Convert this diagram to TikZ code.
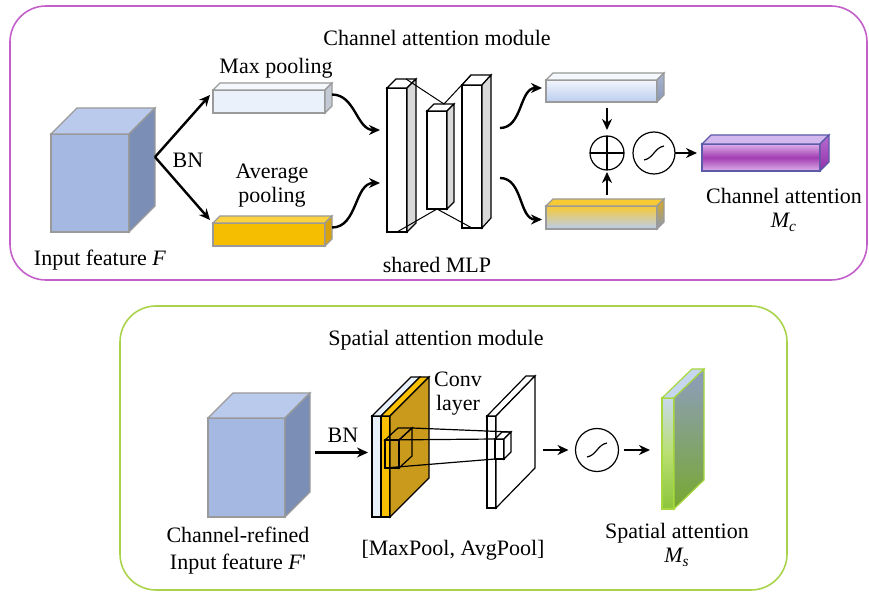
\documentclass[tikz,border=0pt]{standalone}
\usepackage{amsmath}
\usepackage{fontspec}
\setmainfont{Liberation Serif}
\usepackage{tikz}
\usetikzlibrary{positioning,arrows.meta,calc}
\definecolor{attpurple}{HTML}{C25FC9}
\definecolor{attgreen}{HTML}{AAD34C}
\definecolor{featfront}{HTML}{A4B8E2}
\definecolor{feattop}{HTML}{BACAEC}
\definecolor{featside}{HTML}{7B8EB6}
\definecolor{edgegray}{HTML}{9A9A9A}
\definecolor{maxfront}{HTML}{EAF1FA}
\definecolor{maxtop}{HTML}{F5F8FC}
\definecolor{maxside}{HTML}{C3CAD5}
\definecolor{avgfront}{HTML}{F6BE00}
\definecolor{avgtop}{HTML}{FCD23E}
\definecolor{avgside}{HTML}{D8A20F}
\definecolor{mlpside}{HTML}{D9D9D9}
\definecolor{reslight}{HTML}{F2F5FC}
\definecolor{resblue}{HTML}{BACDEE}
\definecolor{resgold}{HTML}{F7C935}
\definecolor{ressidetop}{HTML}{A9B5CE}
\definecolor{ressidebot}{HTML}{8A98B9}
\definecolor{resgoldside}{HTML}{D6A820}
\definecolor{mclight}{HTML}{DDB0EA}
\definecolor{mcdark}{HTML}{A23DB2}
\definecolor{mcedge}{HTML}{5B5BA9}
\definecolor{mctop}{HTML}{D3B8EE}
\definecolor{mcsidetop}{HTML}{B86CD0}
\definecolor{mcsidebot}{HTML}{9030A8}
\definecolor{convlite}{HTML}{E8F0FA}
\definecolor{convgold}{HTML}{F8C000}
\definecolor{convbrown}{HTML}{C99A1C}
\definecolor{mslight}{HTML}{C9D8EC}
\definecolor{msgreen}{HTML}{B8E070}
\definecolor{msdark}{HTML}{8CC43A}
\definecolor{msedge}{HTML}{A8D840}
\definecolor{mstop}{HTML}{C6D6EE}
\definecolor{mssidetop}{HTML}{8D9DBE}
\definecolor{mssidebot}{HTML}{78A830}
\tikzset{
    face/.style={draw=edgegray,line width=0.6pt,inner sep=0pt,outer sep=0pt},
    topf/.style={draw=edgegray,line width=0.6pt},
    slab/.style={draw=black,line width=0.6pt,inner sep=0pt,outer sep=0pt,fill=white},
    slabf/.style={draw=black,line width=0.6pt,fill=white},
    panel/.style={rounded corners=18pt,line width=0.8pt},
    arr/.style={-{Stealth[length=5.5pt,width=5pt]},line width=1.2pt},
    op/.style={circle,draw,line width=0.6pt,inner sep=0pt,outer sep=0pt},
    lbl/.style={align=center,inner sep=1pt},
}
\newcommand{\sides}[4]{%
    \path[#3] (#1.north west) -- ++(#2) -- ($(#1.north east)+(#2)$) -- (#1.north east) -- cycle;
    \path[#4] (#1.north east) -- ++(#2) -- ($(#1.south east)+(#2)$) -- (#1.south east) -- cycle;
}
\newcommand{\sigmoid}[1]{%
    \draw[line width=0.6pt] ($(#1.center)+(-10,7)$) to[out=10,in=190] ($(#1.center)+(10,-7)$);
}
\begin{document}
\begin{tikzpicture}[x=0.5pt,y=-0.5pt,font=\fontsize{11}{12}\selectfont]
    \useasboundingbox (0,0) rectangle (869,593);
    \draw[panel,attpurple] (10,6) rectangle (867,280);
    \draw[panel,attgreen] (120,306) rectangle (787,590);

    % channel attention module
    \node (catitle) at (437,38) {Channel attention module};
    \node[face,fill=featfront,minimum width=39pt,minimum height=49pt] (input) at (90,183) {};
    \sides{input}{26,-26}{topf,fill=feattop}{topf,fill=featside}
    \node (inlabel) at (100,260) {Input feature \textit{F}};
    \coordinate (split) at ($(input.east)+(26,-26)$);

    \node[face,fill=maxfront,minimum width=56pt,minimum height=11.5pt] (maxp) at (269,101.5) {};
    \sides{maxp}{7,-7}{topf,fill=maxtop}{topf,fill=maxside}
    \node (maxlabel) at (276,68) {Max pooling};
    \node[face,fill=avgfront,minimum width=56pt,minimum height=11.5pt] (avgp) at (269,234.5) {};
    \sides{avgp}{7,-7}{topf,fill=avgtop}{topf,fill=avgside}
    \node[lbl] (avglabel) at (272,186) {Average\\pooling};
    \draw[arr] (split) -- ($(maxp.north west)+(-3,5)$);
    \draw[arr] (split) -- ($(avgp.north west)+(-3,-3)$);
    \node (bn1) at (188,160) {BN};

    \node[slab,minimum width=10pt,minimum height=72pt] (mlpa) at (397,160) {};
    \sides{mlpa}{9,-9}{slabf}{slabf,fill=mlpside}
    \node[slab,minimum width=10pt,minimum height=49pt] (mlpb) at (437,160) {};
    \sides{mlpb}{7,-7}{slabf}{slabf,fill=mlpside}
    \node[slab,minimum width=10pt,minimum height=71.5pt] (mlpc) at (472,156.5) {};
    \sides{mlpc}{9,-10}{slabf}{slabf,fill=mlpside}
    \draw[line width=0.5pt] ($(mlpa.north)+(9,-9)$) -- ($(mlpb.north)+(7,-7)$) -- ($(mlpc.north west)+(9,-10)$);
    \draw[line width=0.5pt] (mlpa.south) -- (mlpb.south) -- (mlpc.south);
    \node (mlplabel) at (437,265) {shared MLP};
    \coordinate (mlpin1) at (380,130);
    \coordinate (mlpin2) at (380,183);
    \coordinate (mlpout1) at (500,128);
    \coordinate (mlpout2) at (500,178);
    \draw[arr] ($(maxp.east)+(7,-7)$) to[out=0,in=180] (mlpin1);
    \draw[arr] ($(avgp.east)+(7,-7)$) to[out=0,in=180] (mlpin2);

    \node[face,top color=reslight,bottom color=resblue,minimum width=55.5pt,minimum height=11pt] (upper) at (601.5,91) {};
    \sides{upper}{7,-7}{topf,fill=maxtop}{topf,top color=ressidetop,bottom color=ressidebot}
    \node[face,top color=resgold,bottom color=resblue,minimum width=55.5pt,minimum height=11.5pt] (lower) at (601.5,217.5) {};
    \sides{lower}{7,-7}{topf,fill=resgold}{topf,top color=resgoldside,bottom color=ressidebot}
    \draw[arr] (mlpout1) to[out=0,in=180] ($(upper.west)+(-4,-3)$);
    \draw[arr] (mlpout2) to[out=0,in=180] ($(lower.west)+(-4,2)$);

    \node[op,minimum size=17pt] (oplus) at (607,153) {};
    \draw[line width=0.6pt] (oplus.north) -- (oplus.south) (oplus.west) -- (oplus.east);
    \node[op,minimum size=21pt] (sig1) at (654,153) {};
    \sigmoid{sig1}
    \coordinate (ua) at (upper.south -| oplus.north);
    \coordinate (la) at (lower.north -| oplus.south);
    \draw[arr] ($(ua)+(0,6)$) -- ($(oplus.north)+(0,-6)$);
    \draw[arr] ($(la)+(0,-11)$) -- ($(oplus.south)+(0,2)$);

    \node[draw=mcedge,line width=0.6pt,inner sep=0pt,outer sep=0pt,top color=mclight,bottom color=mclight,middle color=mcdark,minimum width=59pt,minimum height=13.5pt] (mc) at (761,157.5) {};
    \sides{mc}{9,-9}{draw=mcedge,line width=0.6pt,fill=mctop}{draw=mcedge,line width=0.6pt,top color=mcsidetop,bottom color=mcsidebot}
    \draw[arr,shorten >=2.5pt] (sig1.east) -- (sig1.east -| mc.west);
    \node[lbl] (mclabel) at (784,210) {Channel attention\\$\textit{M}_{\textit{c}}$};

    % spatial attention module
    \node (satitle) at (436,340) {Spatial attention module};
    \node[face,fill=featfront,minimum width=38.5pt,minimum height=49.5pt] (refined) at (246.5,467.5) {};
    \sides{refined}{25,-25}{topf,fill=feattop}{topf,fill=featside}
    \node[lbl] (reflabel) at (238,551) {Channel-refined\\[1.5pt]Input feature \textit{F}\textquotesingle};
    \coordinate (bnstart) at ($(refined.east)+(30,-15)$);

    \node[slab,fill=convlite,minimum width=4.5pt,minimum height=50.5pt] (lite) at (376.5,466.5) {};
    \node[slab,fill=convgold,minimum width=4.5pt,minimum height=50.5pt] (gold) at (385.5,466.5) {};
    \path[slabf,fill=convlite] (lite.north west) -- ++(39,-39) -- ($(lite.north east)+(39,-39)$) -- (lite.north east) -- cycle;
    \sides{gold}{39,-39}{slabf,fill=convgold}{slabf,fill=convbrown}
    \draw[arr,shorten >=2pt] (bnstart) -- (bnstart -| lite.west);
    \node (bn2) at (343,435) {BN};
    \node[slab,fill=none,minimum width=7pt,minimum height=14pt] (kbig) at (392,454) {};
    \sides{kbig}{13,-12}{slabf,fill=none}{slabf,fill=none}

    \node[slab,minimum width=4.5pt,minimum height=46pt] (wslab) at (491.5,462) {};
    \sides{wslab}{39,-40}{slabf}{slabf}
    \node[slab,minimum width=4.5pt,minimum height=10pt] (ksmall) at (499.5,449) {};
    \sides{ksmall}{7,-7}{slabf}{slabf}
    \draw[line width=0.6pt] (kbig.north west) -- (ksmall.north west);
    \draw[line width=0.6pt] (kbig.south west) -- (ksmall.south west);
    \draw[line width=0.6pt] ($(kbig.north east)+(13,-12)$) -- ($(ksmall.north east)+(7,-7)$);
    \node[lbl] (convlabel) at (458,394) {Conv\\layer};
    \node (poollabel) at (453,550) {[MaxPool, AvgPool]};

    \coordinate (wout) at (543,450);
    \node[op,minimum size=21.5pt] (sig2) at (597,450) {};
    \sigmoid{sig2}
    \node[draw=msedge,line width=0.6pt,inner sep=0pt,outer sep=0pt,top color=mslight,bottom color=msdark,middle color=msgreen,minimum width=6pt,minimum height=55.5pt] (ms) at (668,453.5) {};
    \sides{ms}{30,-29}{draw=msedge,line width=0.6pt,fill=mstop}{draw=msedge,line width=0.6pt,top color=mssidetop,bottom color=mssidebot}
    \draw[arr,shorten >=3.5pt] (wout) -- (sig2.west);
    \draw[arr,shorten <=2.5pt,shorten >=6pt] (sig2.east) -- (sig2.east -| ms.west);
    \node[lbl] (mslabel) at (677,545) {Spatial attention\\$\textit{M}_{\textit{s}}$};
\end{tikzpicture}
\end{document}
